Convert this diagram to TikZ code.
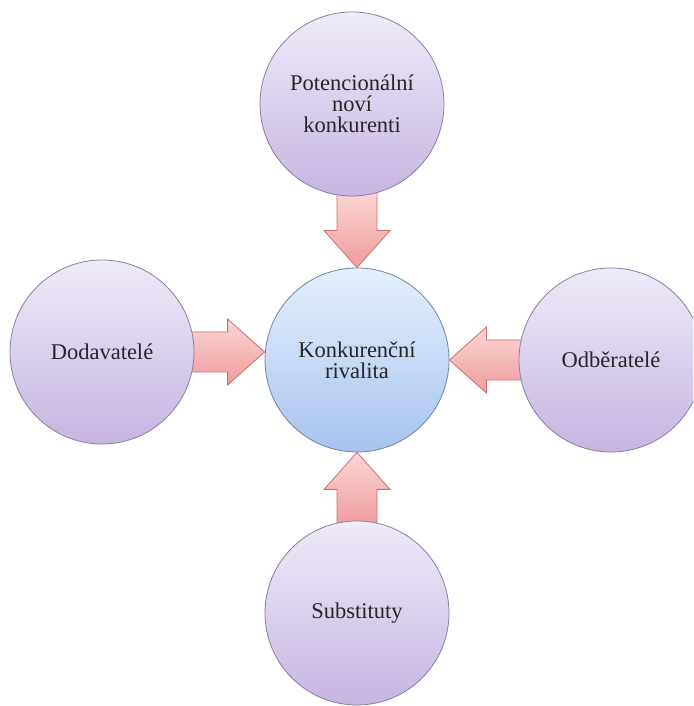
\documentclass[tikz,border=0pt]{standalone}
\usepackage{fontspec}
\setmainfont{Liberation Serif}
\newfontfamily\lserif{Liberation Serif}
\usetikzlibrary{calc}
\definecolor{purptop}{HTML}{EFEBF8}
\definecolor{purpbot}{HTML}{C6B5E1}
\definecolor{circline}{HTML}{8A7FA0}
\definecolor{bluetop}{HTML}{E7F0FC}
\definecolor{bluebot}{HTML}{A7C3EE}
\definecolor{blueline}{HTML}{6F85A3}
\definecolor{arrtop}{HTML}{FBD6D6}
\definecolor{arrbot}{HTML}{F19C9C}
\definecolor{arrline}{HTML}{C77272}
\pgfdeclarelayer{bg}
\pgfsetlayers{bg,main}
\begin{document}
\begin{tikzpicture}[x=1pt,y=1pt,
  outer/.style={circle, minimum size=184pt, inner sep=0pt, draw=circline, line width=0.8pt,
    top color=purptop, bottom color=purpbot, align=center, text=black!85,
    font=\lserif\fontsize{22.5}{21}\selectfont},
  inner/.style={outer, top color=bluetop, bottom color=bluebot, draw=blueline},
  fat/.style={draw=arrline, line width=0.8pt, top color=arrtop, bottom color=arrbot, line join=miter}]
\clip (0,0) rectangle (693,706);
\node[inner] (C) at (357,346) {Konkurenční\\rivalita};
\node[outer] (T) at (352,602) {Potencionální\\noví\\konkurenti};
\node[outer] (L) at (102,354) {Dodavatelé};
\node[outer] (R) at (611,346) {Odběratelé};
\node[outer] (B) at (357,93) {Substituty};
\begin{pgfonlayer}{bg}
\fill[white] (0,0) rectangle (693,706);
% top arrow
\path[fat] ($(T.south -| C.north)+(-20,6)$) -- ($(C.north)+(-20,37)$) -- ($(C.north)+(-33,37)$)
  -- (C.north) -- ($(C.north)+(33,37)$) -- ($(C.north)+(20,37)$) -- ($(T.south -| C.north)+(20,6)$) -- cycle;
% bottom arrow
\path[fat] ($(B.north -| C.south)+(-20,-6)$) -- ($(C.south)+(-20,-37)$) -- ($(C.south)+(-33,-37)$)
  -- (C.south) -- ($(C.south)+(33,-37)$) -- ($(C.south)+(20,-37)$) -- ($(B.north -| C.south)+(20,-6)$) -- cycle;
% left arrow
\path[fat] ($(L.east)+(-6,20)$) -- ($(L.east -| C.west)+(-37,20)$) -- ($(L.east -| C.west)+(-37,33)$)
  -- (L.east -| C.west) -- ($(L.east -| C.west)+(-37,-33)$) -- ($(L.east -| C.west)+(-37,-20)$) -- ($(L.east)+(-6,-20)$) -- cycle;
% right arrow
\path[fat] ($(R.west)+(6,20)$) -- ($(R.west -| C.east)+(37,20)$) -- ($(R.west -| C.east)+(37,33)$)
  -- (R.west -| C.east) -- ($(R.west -| C.east)+(37,-33)$) -- ($(R.west -| C.east)+(37,-20)$) -- ($(R.west)+(6,-20)$) -- cycle;
\end{pgfonlayer}
\end{tikzpicture}
\end{document}
